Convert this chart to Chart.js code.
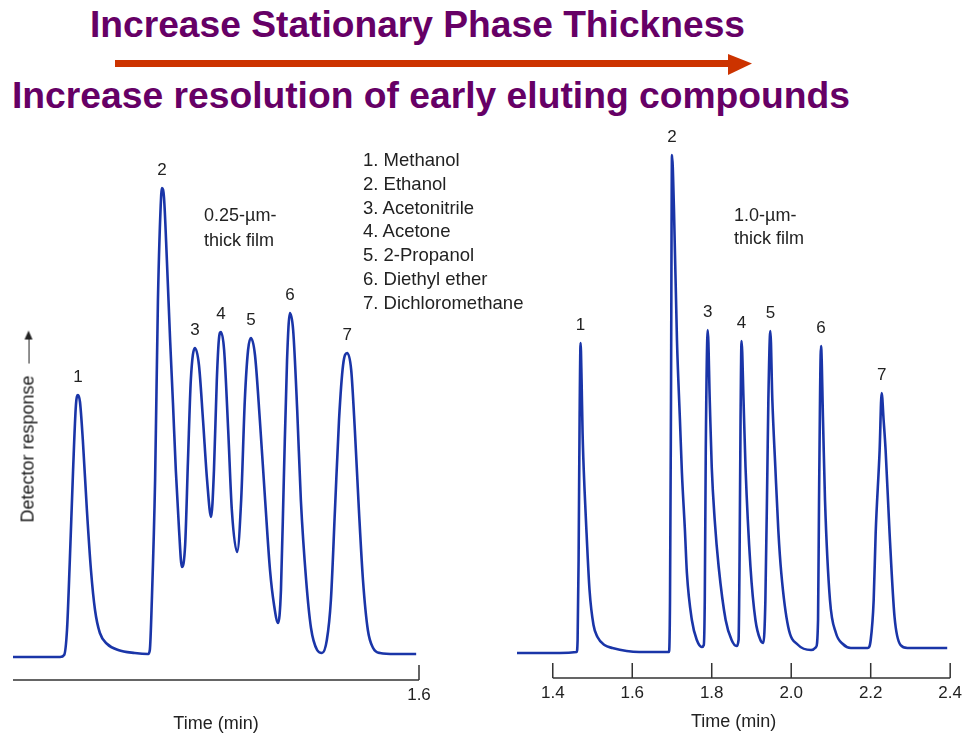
<!DOCTYPE html>
<html>
<head>
<meta charset="utf-8">
<title>Stationary phase thickness</title>
<script src="https://cdn.jsdelivr.net/npm/chart.js@4.4.1/dist/chart.umd.min.js"></script>
<style>
    html, body { margin: 0; padding: 0; background: #fff; }
    #page {
        position: relative;
        width: 967px;
        height: 736px;
        overflow: hidden;
        font-family: 'Liberation Sans', Arial, sans-serif;
        color: #222;
    }
    .headline {
        position: absolute;
        font-weight: bold;
        font-size: 37px;
        line-height: 37px;
        color: #660066;
        white-space: nowrap;
        transform-origin: 0 0;
    }
    #arrow { position: absolute; left: 0; top: 0; }
    canvas { position: absolute; }
    .film { position: absolute; font-size: 18px; white-space: nowrap; }
    #compounds {
        position: absolute;
        left: 363px;
        top: 148px;
        margin: 0;
        padding: 0;
        list-style: none;
        font-size: 18.5px;
        line-height: 23.8px;
        white-space: nowrap;
    }
    #yLabel {
        position: absolute;
        font-size: 18px;
        line-height: 20px;
        color: #1a1a1a;
        white-space: nowrap;
        transform: rotate(-90deg);
        transform-origin: 50% 50%;
    }
    #yLabel .up {
        display: inline-block;
        position: relative;
        width: 30px;
        height: 1.4px;
        margin-left: 12px;
        background: #222;
        vertical-align: middle;
    }
    #yLabel .up::after {
        content: '';
        position: absolute;
        right: -3px;
        top: -3.3px;
        border-left: 9px solid #222;
        border-top: 4px solid transparent;
        border-bottom: 4px solid transparent;
    }
</style>
</head>
<body>
<div id="page">
    <div class="headline" id="headTop" style="left:90px; top:6px;">Increase Stationary Phase Thickness</div>
    <svg id="arrow" width="967" height="130">
        <rect x="115" y="60" width="616" height="7" fill="#cc3300"></rect>
        <polygon points="728,54 752,63.5 728,75" fill="#cc3300"></polygon>
    </svg>
    <div class="headline" id="headBottom" style="left:12px; top:77px;">Increase resolution of early eluting compounds</div>

    <canvas id="thinFilmChart" width="450" height="605" style="left:0; top:130px;"></canvas>
    <canvas id="thickFilmChart" width="487" height="605" style="left:480px; top:128px;"></canvas>

    <div class="film" style="left:204px; top:203px; line-height:25px;">0.25-µm-<br>thick film</div>
    <div class="film" style="left:734px; top:204px; line-height:23px;">1.0-µm-<br>thick film</div>
    <ul id="compounds"></ul>
    <div id="yLabel">Detector response<span class="up"></span></div>
</div>

<script>
// Compound names, numbered in elution order
const compounds = ['Methanol', 'Ethanol', 'Acetonitrile', 'Acetone', '2-Propanol', 'Diethyl ether', 'Dichloromethane'];

// 0.25-um film trace: time (min) and detector response (arb. units)
const thinTime = [
    0.600, 0.716, 0.726, 0.733, 0.740, 0.748, 0.755, 0.760, 0.765, 0.772,
    0.782, 0.792, 0.802, 0.814, 0.832, 0.859, 0.900, 0.933, 0.937, 0.942,
    0.950, 0.957, 0.965, 0.967, 0.972, 0.979, 0.987, 0.994, 1.001, 1.009,
    1.016, 1.024, 1.031, 1.038, 1.048, 1.058, 1.068, 1.078, 1.088, 1.095,
    1.102, 1.107, 1.112, 1.120, 1.130, 1.139, 1.152, 1.162, 1.171, 1.179,
    1.186, 1.196, 1.208, 1.221, 1.233, 1.243, 1.253, 1.260, 1.267, 1.275,
    1.282, 1.290, 1.300, 1.309, 1.322, 1.334, 1.349, 1.361, 1.373, 1.383,
    1.393, 1.403, 1.413, 1.423, 1.433, 1.442, 1.452, 1.462, 1.474, 1.487,
    1.504, 1.541, 1.593
];
const thinResponse = [
    0, 0, 0.4, 5.4, 19.4, 37.4, 50.4, 52.4, 51.0, 43.4,
    29.4, 17.4, 9.4, 4.8, 2.6, 1.4, 0.8, 0.6, 1.4, 11.4,
    35.4, 71.4, 92.4, 93.8, 91.8, 79.4, 63.4, 50.8, 37.4, 25.4,
    18.0, 22.4, 39.4, 55.4, 61.8, 58.4, 47.4, 35.4, 28.0, 37.4,
    55.4, 63.4, 65.0, 61.4, 45.4, 29.4, 21.0, 31.4, 51.4, 61.4,
    63.8, 60.4, 47.4, 31.4, 17.4, 10.4, 6.8, 13.4, 35.4, 59.4,
    68.8, 65.4, 49.4, 31.4, 15.4, 5.8, 1.4, 0.8, 3.4, 11.4,
    29.4, 47.4, 58.4, 60.8, 57.4, 45.4, 29.4, 15.4, 5.4, 1.8,
    0.8, 0.6, 0.6
];
const thinPeakTimes = [0.760, 0.967, 1.048, 1.112, 1.186, 1.282, 1.423];
const thinTicks = [1.6];

// 1.0-um film trace
const thickTime = [
    1.310, 1.4175, 1.460, 1.4625, 1.465, 1.4675, 1.470, 1.4725, 1.475, 1.480,
    1.485, 1.4925, 1.5025, 1.5125, 1.530, 1.550, 1.6175, 1.6925, 1.695, 1.6975,
    1.700, 1.705, 1.7125, 1.720, 1.725, 1.7325, 1.7375, 1.750, 1.7625, 1.775,
    1.780, 1.7825, 1.785, 1.790, 1.795, 1.800, 1.8075, 1.8175, 1.835, 1.850,
    1.8625, 1.8675, 1.870, 1.8725, 1.875, 1.880, 1.885, 1.8975, 1.910, 1.9225,
    1.930, 1.935, 1.940, 1.9425, 1.9475, 1.9525, 1.960, 1.9675, 1.975, 1.9925,
    2.0175, 2.050, 2.0625, 2.0675, 2.070, 2.075, 2.080, 2.085, 2.0975, 2.1125,
    2.130, 2.150, 2.1925, 2.200, 2.2075, 2.2125, 2.2225, 2.2275, 2.2325, 2.2375,
    2.2475, 2.260, 2.275, 2.2925, 2.3175, 2.3925
];
const thickResponse = [
    0, 0, 0.2, 2.6, 18.6, 46.6, 62.0, 54.6, 44.0, 32.6,
    24.0, 12.6, 5.6, 3.2, 1.6, 1.0, 0.2, 0.2, 10.6, 50.6,
    99.6, 88.6, 62.6, 46.6, 36.0, 24.6, 16.0, 6.6, 2.6, 1.2,
    1.6, 10.6, 40.6, 64.6, 50.6, 37.2, 26.6, 17.2, 6.6, 2.6,
    1.4, 2.6, 18.6, 46.6, 62.4, 50.6, 37.2, 17.2, 6.6, 2.6,
    2.0, 10.6, 36.6, 50.6, 64.4, 50.6, 37.2, 24.6, 16.0, 5.2,
    1.6, 0.6, 1.2, 6.6, 30.6, 61.4, 46.6, 30.6, 10.6, 4.0,
    1.8, 1.0, 1.0, 2.6, 10.6, 24.0, 40.6, 52.0, 46.6, 40.6,
    24.0, 7.2, 1.6, 1.0, 1.0, 1.0
];
const thickPeakTimes = [1.470, 1.700, 1.790, 1.875, 1.9475, 2.075, 2.2275];
const thickTicks = [1.4, 1.6, 1.8, 2.0, 2.2, 2.4];

const FONT = "'Liberation Sans', Arial, sans-serif";
const TRACE_COLOR = '#1a35a8';

let thinChart = null;
let thickChart = null;

// numbers above each peak apex
const peakLabelsPlugin = {
    id: 'peakLabels',
    afterDatasetsDraw(chart, args, opts) {
        const { ctx, scales: { x, y } } = chart;
        const pts = chart.data.datasets[0].data;
        ctx.save();
        ctx.font = '17px ' + FONT;
        ctx.fillStyle = '#222';
        ctx.textAlign = 'center';
        ctx.textBaseline = 'middle';
        opts.times.forEach((t, i) => {
            const apex = pts.reduce((best, p) => Math.abs(p.x - t) < Math.abs(best.x - t) ? p : best);
            ctx.fillText(String(i + 1), x.getPixelForValue(apex.x), y.getPixelForValue(apex.y) - 18);
        });
        ctx.restore();
    }
};

// bracket-style time axis with upward tick marks
const timeBracketPlugin = {
    id: 'timeBracket',
    afterDraw(chart, args, opts) {
        const { ctx, chartArea, scales: { x } } = chart;
        const base = chartArea.bottom;
        ctx.save();
        ctx.strokeStyle = '#333';
        ctx.lineWidth = 1.5;
        ctx.beginPath();
        ctx.moveTo(x.getPixelForValue(opts.from), base);
        ctx.lineTo(x.getPixelForValue(opts.marks[opts.marks.length - 1]), base);
        opts.marks.forEach(v => {
            const px = x.getPixelForValue(v);
            ctx.moveTo(px, base);
            ctx.lineTo(px, base - 15);
        });
        ctx.stroke();
        ctx.restore();
    }
};

document.addEventListener('DOMContentLoaded', function () {
    fillCompoundList();
    placeYLabel();
    fitHeadline('headTop', 655);
    fitHeadline('headBottom', 838);
    createThinFilmChart();
    createThickFilmChart();
});

function fillCompoundList() {
    const list = document.getElementById('compounds');
    compounds.forEach((name, i) => {
        const li = document.createElement('li');
        li.textContent = `${i + 1}. ${name}`;
        list.appendChild(li);
    });
}

function placeYLabel() {
    const label = document.getElementById('yLabel');
    const w = label.offsetWidth;
    const h = label.offsetHeight;
    // centre of the rotated label
    label.style.left = (27 - w / 2) + 'px';
    label.style.top = (428 - h / 2) + 'px';
}

function fitHeadline(id, width) {
    const el = document.getElementById(id);
    const w = el.getBoundingClientRect().width;
    el.style.transform = `scaleX(${width / w})`;
}

function buildTrace(times, values) {
    return times.map((t, i) => ({ x: t, y: values[i] }));
}

function chartOptions(xMin, xMax, yMin, yMax, ticks, padding, peakTimes, bracketFrom) {
    return {
        responsive: false,
        animation: false,
        events: [],
        layout: { padding: padding },
        plugins: {
            legend: { display: false },
            tooltip: { enabled: false },
            peakLabels: { times: peakTimes },
            timeBracket: { from: bracketFrom, marks: ticks }
        },
        scales: {
            x: {
                type: 'linear',
                min: xMin,
                max: xMax,
                afterBuildTicks: axis => {
                    axis.ticks = ticks.map(v => ({ value: v }));
                },
                grid: { display: false, drawTicks: false },
                border: { display: false },
                ticks: {
                    color: '#222',
                    padding: 5,
                    maxRotation: 0,
                    autoSkip: false,
                    font: { family: FONT, size: 17 },
                    callback: value => Number(value).toFixed(1)
                },
                title: {
                    display: true,
                    text: 'Time (min)',
                    color: '#222',
                    font: { family: FONT, size: 18 },
                    padding: { top: 3, bottom: 0 }
                }
            },
            y: {
                display: false,
                min: yMin,
                max: yMax
            }
        }
    };
}

function createThinFilmChart() {
    const canvas = document.getElementById('thinFilmChart');
    if (!canvas) {
        console.error('Canvas for the thin film chart not found.');
        return;
    }
    if (thinChart) {
        thinChart.destroy();
    }
    thinChart = new Chart(canvas.getContext('2d'), {
        type: 'line',
        data: {
            datasets: [{
                data: buildTrace(thinTime, thinResponse),
                borderColor: TRACE_COLOR,
                borderWidth: 2.6,
                pointRadius: 0,
                fill: false,
                cubicInterpolationMode: 'monotone'
            }]
        },
        options: chartOptions(0.6, 1.6, -4.6, 103.4, thinTicks,
            { left: 13, right: 31, top: 10, bottom: 0 }, thinPeakTimes, 0.6),
        plugins: [peakLabelsPlugin, timeBracketPlugin]
    });
}

function createThickFilmChart() {
    const canvas = document.getElementById('thickFilmChart');
    if (!canvas) {
        console.error('Canvas for the thick film chart not found.');
        return;
    }
    if (thickChart) {
        thickChart.destroy();
    }
    thickChart = new Chart(canvas.getContext('2d'), {
        type: 'line',
        data: {
            datasets: [{
                data: buildTrace(thickTime, thickResponse),
                borderColor: TRACE_COLOR,
                borderWidth: 2.6,
                pointRadius: 0,
                fill: false,
                cubicInterpolationMode: 'monotone'
            }]
        },
        options: chartOptions(1.31, 2.4, -5, 103, thickTicks,
            { left: 37, right: 14, top: 10, bottom: 0 }, thickPeakTimes, 1.4),
        plugins: [peakLabelsPlugin, timeBracketPlugin]
    });
}
</script>
</body>
</html>
